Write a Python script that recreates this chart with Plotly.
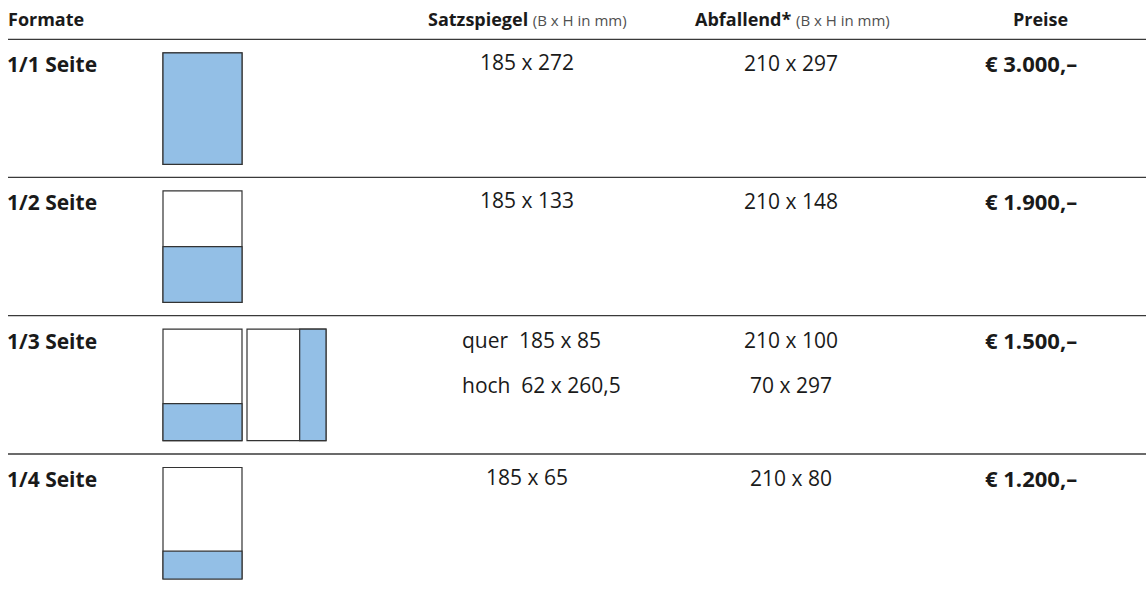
import plotly.graph_objects as go

# ---- data ----
formate = ["1/1 Seite", "1/2 Seite", "1/3 Seite", "1/4 Seite"]
satzspiegel = [["185 x 272"], ["185 x 133"], ["quer  185 x 85", "hoch  62 x 260,5"], ["185 x 65"]]
abfallend = [["210 x 297"], ["210 x 148"], ["210 x 100", "70 x 297"], ["210 x 80"]]
preise = ["€ 3.000,–", "€ 1.900,–", "€ 1.500,–", "€ 1.200,–"]
# fraction of page filled (horizontal band from bottom)
fill_quer = [1.0, 0.5, 1/3, 0.25]
# fraction of page filled (vertical band at right), None if no tall variant
fill_hoch = [None, None, 1/3, None]
headers = ["Formate", "Satzspiegel", "Abfallend*", "Preise"]
header_unit = "(B x H in mm)"

W, H = 1146, 590
FONT = "Open Sans"
TXT = "#1a1a1a"
BLUE = "#93bfe6"
EDGE = "#333333"

row_lines = [39.3, 177.3, 315.7, 454]
page_w, page_h = 79, 111.5
page_x0 = 163
col_satz, col_abf, col_preis = 527, 791, 1031

fig = go.Figure()
shapes = []
ann = []

def line(y):
    shapes.append(dict(type="line", xref="x", yref="y", x0=8, x1=W, y0=y, y1=y,
                       line=dict(color="#3a3a3a", width=1.3)))

def rect(x0, y0, x1, y1, fill):
    shapes.append(dict(type="rect", xref="x", yref="y", x0=x0, x1=x1, y0=y0, y1=y1,
                       fillcolor=fill, line=dict(color=EDGE, width=1.2)))

HS = 18
US = 15
unit = " <span style='font-size:%dpx;color:#505050'>%s</span>" % (US, header_unit)
hdr = []
hdr.append(dict(x=6, y=19, text="<b>" + headers[0] + "</b>", xanchor="left"))
hdr.append(dict(x=col_satz, y=19, text="<b>" + headers[1] + "</b>" + unit, xanchor="center"))
hdr.append(dict(x=792, y=19, text="<b>" + headers[2] + "</b>" + unit, xanchor="center"))
hdr.append(dict(x=1040, y=19, text="<b>" + headers[3] + "</b>", xanchor="center"))
for a in hdr:
    a["font"] = dict(size=HS, color=TXT, family=FONT)
ann += hdr

LS = 21
VS = 21
PS = 22
for i, name in enumerate(formate):
    ly = row_lines[i]
    line(ly)
    ann.append(dict(x=5, y=ly + 25, text="<b>" + name + "</b>", xanchor="left",
                    font=dict(size=LS, color=TXT, family=FONT)))
    # page thumbnails
    top = ly + 13.5
    bot = top + page_h
    x0, x1 = page_x0, page_x0 + page_w
    rect(x0, top, x1, bot, "white")
    f = fill_quer[i]
    rect(x0, bot - f * page_h, x1, bot, BLUE)
    if fill_hoch[i] is not None:
        hx0 = x1 + 5
        hx1 = hx0 + page_w
        rect(hx0, top, hx1, bot, "white")
        rect(hx1 - fill_hoch[i] * page_w, top, hx1, bot, BLUE)
    # values
    sl = satzspiegel[i]
    al = abfallend[i]
    if len(sl) == 1:
        ann.append(dict(x=col_satz, y=ly + 23, text=sl[0], xanchor="center",
                        font=dict(size=VS, color=TXT, family=FONT)))
    else:
        for k, s in enumerate(sl):
            ann.append(dict(x=460, y=ly + 24 + k * 45, text=s.replace("  ", "&nbsp; "), xanchor="left",
                            font=dict(size=VS, color=TXT, family=FONT)))
    for k, s in enumerate(al):
        ann.append(dict(x=col_abf, y=ly + 24 + k * 45, text=s, xanchor="center",
                        font=dict(size=VS, color=TXT, family=FONT)))
    ann.append(dict(x=col_preis, y=ly + 24, text="<b>" + preise[i] + "</b>", xanchor="center",
                    font=dict(size=PS, color=TXT, family=FONT)))

for a in ann:
    a.update(xref="x", yref="y", showarrow=False, yanchor="middle")

fig.update_layout(
    width=W, height=H, margin=dict(l=0, r=0, t=0, b=0),
    paper_bgcolor="white", plot_bgcolor="white",
    xaxis=dict(range=[0, W], visible=False, fixedrange=True),
    yaxis=dict(range=[H, 0], visible=False, fixedrange=True),
    shapes=shapes, annotations=ann, showlegend=False,
)
fig.write_html("out.html", config={"displayModeBar": False},
               post_script="document.body.style.margin='0';document.body.style.overflow='hidden';")
